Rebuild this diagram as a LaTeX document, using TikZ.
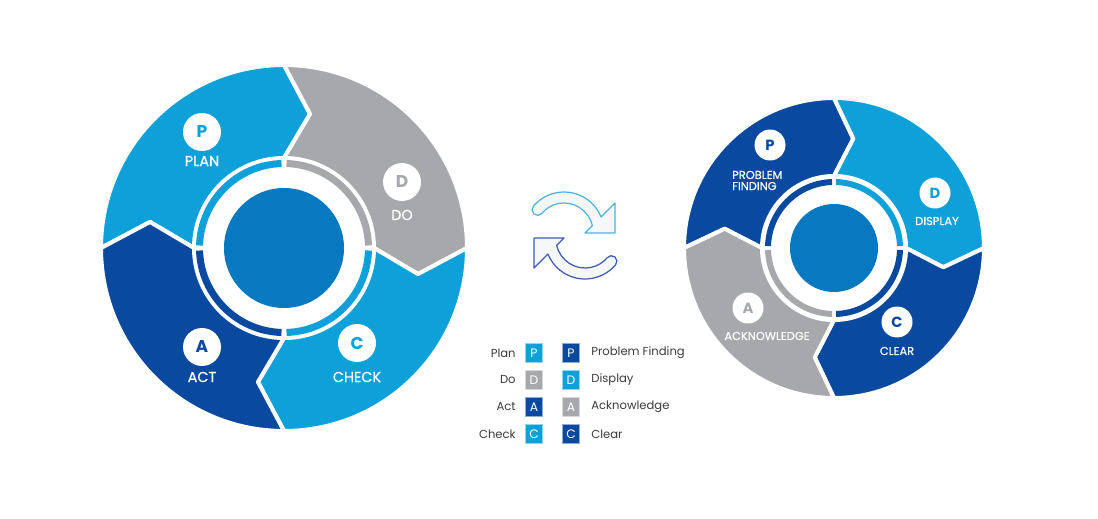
\documentclass[tikz,border=0pt]{standalone}
\usepackage{fontspec}
\setmainfont{Poppins}
\newfontfamily\labelfont{Poppins}[FakeBold=0.5]
\usetikzlibrary{calc}

\definecolor{lightblue}{HTML}{0EA0D9}
\definecolor{darkblue}{HTML}{094AA0}
\definecolor{greyseg}{HTML}{A7A8AB}
\definecolor{hubblue}{HTML}{0679C1}
\definecolor{legendtext}{HTML}{3C3C3C}
\definecolor{arrowtop}{HTML}{4FB2E4}
\definecolor{arrowbot}{HTML}{3D5DB3}
\definecolor{arrowfill}{HTML}{F6F7F9}

% one chevron segment: start angle, outer radius, inner radius, tip offset
\newcommand{\segpath}[4]{(#1:#2) arc[start angle=#1, end angle=#1-90, radius=#2]
  -- (#1-90-#4:{(#2+#3)/2}) -- (#1-90:#3)
  arc[start angle=#1-90, end angle=#1, radius=#3]
  -- (#1-#4:{(#2+#3)/2}) -- cycle}
% thin quadrant arc: start angle, radius
\newcommand{\bandpath}[2]{(#1-1.7:#2) arc[start angle=#1-1.7, end angle=#1-88.3, radius=#2]}
% half of the refresh sign
\newcommand{\refreshpath}{(140:40) arc[start angle=140, end angle=22, radius=40]
  -- (51,29) -- (51,-1) -- (21,-1) -- (12.6:29)
  arc[start angle=12.6, end angle=140, radius=29]
  arc[start angle=320, end angle=140, radius=5.5] -- cycle}

\tikzset{
  seg/.style={fill=#1, draw=white, line width=2.3pt, line join=round},
  band/.style={draw=#1, line width=4pt},
  smallband/.style={draw=#1, line width=3.4pt},
  letterdot/.style={circle, fill=white, inner sep=0pt, minimum size=#1},
  biglabel/.style={text=white, font=\labelfont\fontsize{8.2}{9}\selectfont},
  smalllabel/.style={text=white, font=\labelfont\fontsize{6.5}{6.3}\selectfont},
  keybox/.style={fill=#1, draw=#1!45, line width=0.5pt, minimum width=0.34cm,
    minimum height=0.38cm, inner sep=0pt, text=white, font=\fontsize{7}{8}\selectfont},
  keytext/.style={text=legendtext, font=\fontsize{6.6}{8}\selectfont, inner sep=0pt}
}

\begin{document}
\begin{tikzpicture}[x=0.02cm,y=0.02cm]
\useasboundingbox (0,0) rectangle (1098,518);
\fill[white] (0,0) rectangle (1098,518);

% PDCA cycle
\begin{scope}[shift={(284,270)}]
  \fill[seg=lightblue] \segpath{180}{183}{90}{11};
  \fill[seg=greyseg] \segpath{90}{183}{90}{11};
  \fill[seg=lightblue] \segpath{0}{183}{90}{11};
  \fill[seg=darkblue] \segpath{270}{183}{90}{11};
  \draw[band=lightblue] \bandpath{180}{84.5};
  \draw[band=greyseg] \bandpath{90}{84.5};
  \draw[band=lightblue] \bandpath{0}{84.5};
  \draw[band=darkblue] \bandpath{270}{84.5};
  \fill[hubblue] (0,0) circle (60);
\end{scope}

\node[letterdot=0.76cm, text=lightblue, font=\bfseries\fontsize{9.7}{10}\selectfont] (plandot) at (202,386) {P};
\node[biglabel] (plan) at (202,357) {PLAN};
\node[letterdot=0.76cm, text=greyseg, font=\bfseries\fontsize{9.7}{10}\selectfont] (dodot) at (402,336) {D};
\node[biglabel] (do) at (402,303) {DO};
\node[letterdot=0.76cm, text=lightblue, font=\bfseries\fontsize{9.7}{10}\selectfont] (checkdot) at (357,175) {C};
\node[biglabel] (check) at (357,141) {CHECK};
\node[letterdot=0.76cm, text=darkblue, font=\bfseries\fontsize{9.7}{10}\selectfont] (actdot) at (202,171) {A};
\node[biglabel] (act) at (202,141) {ACT};

% refresh sign
\begin{scope}[shift={(564,286)}]
  \filldraw[fill=arrowfill, draw=arrowtop, line width=0.7pt, line join=round] \refreshpath;
\end{scope}
\begin{scope}[shift={(585,279)}, rotate=180]
  \filldraw[fill=arrowfill, draw=arrowbot, line width=0.7pt, line join=round] \refreshpath;
\end{scope}

% PDCA as problem finding
\begin{scope}[shift={(834,270)}]
  \fill[seg=darkblue] \segpath{180}{150}{72}{10};
  \fill[seg=lightblue] \segpath{90}{150}{72}{10};
  \fill[seg=darkblue] \segpath{0}{150}{72}{10};
  \fill[seg=greyseg] \segpath{270}{150}{72}{10};
  \draw[smallband=darkblue] \bandpath{180}{66};
  \draw[smallband=lightblue] \bandpath{90}{66};
  \draw[smallband=darkblue] \bandpath{0}{66};
  \draw[smallband=greyseg] \bandpath{270}{66};
  \fill[hubblue] (0,0) circle (44);
\end{scope}

\node[letterdot=0.62cm, text=darkblue, font=\bfseries\fontsize{8.4}{9}\selectfont] (pfdot) at (770,373) {P};
\node[smalllabel, anchor=west, align=left] (pf) at (726,337.5) {PROBLEM\\FINDING};
\node[letterdot=0.62cm, text=lightblue, font=\bfseries\fontsize{8.4}{9}\selectfont] (displaydot) at (935,325) {D};
\node[smalllabel] (display) at (937,297) {DISPLAY};
\node[letterdot=0.62cm, text=darkblue, font=\bfseries\fontsize{8.4}{9}\selectfont] (cleardot) at (897,196) {C};
\node[smalllabel] (clear) at (897,167) {CLEAR};
\node[letterdot=0.62cm, text=greyseg, font=\bfseries\fontsize{8.4}{9}\selectfont] (ackdot) at (748,210) {A};
\node[smalllabel] (ack) at (767,182) {ACKNOWLEDGE};

% legend
\foreach \y/\la/\ca/\lb/\cb/\ltr in {165/Plan/lightblue/Problem Finding/darkblue/P,
    138/Do/greyseg/Display/lightblue/D, 111/Act/darkblue/Acknowledge/greyseg/A,
    84/Check/lightblue/Clear/darkblue/C}{
  \node[keytext, anchor=east] (keyla\ltr) at (516,\y) {\la};
  \node[keybox=\ca] (keyba\ltr) at (534,\y) {\ltr};
  \node[keybox=\cb] (keybb\ltr) at (571,\y) {\ltr};
  \node[keytext, anchor=west] (keylb\ltr) at (591,\y) {\lb};
}
\end{tikzpicture}
\end{document}
